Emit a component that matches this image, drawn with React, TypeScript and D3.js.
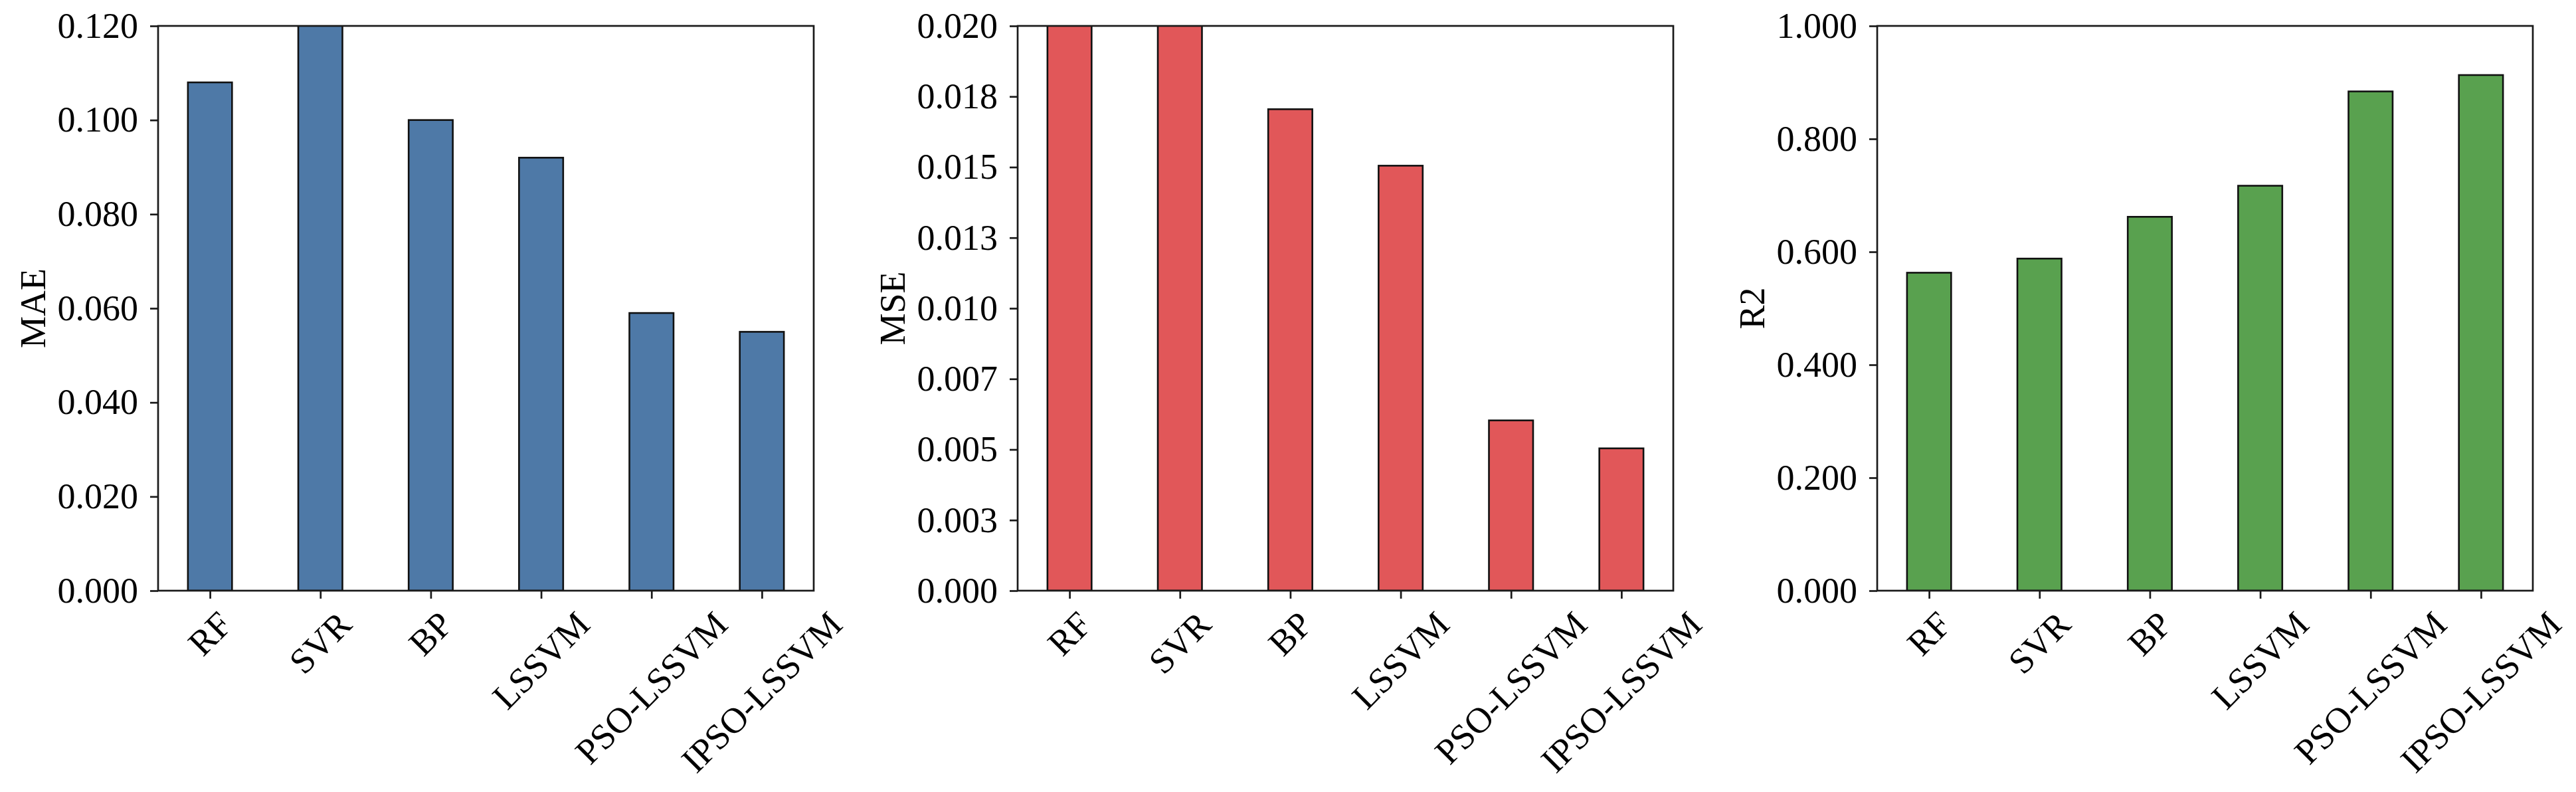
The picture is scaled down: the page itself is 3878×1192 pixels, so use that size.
import React, { useRef, useEffect } from "react";
import * as d3 from "d3";

const models = ["RF", "SVR", "BP", "LSSVM", "PSO-LSSVM", "IPSO-LSSVM"];

// MAE (SVR runs past the top of the axis)
const maeValues = [0.108, 0.122, 0.1, 0.092, 0.059, 0.055];
const maeTicks = [0, 0.02, 0.04, 0.06, 0.08, 0.1, 0.12];
const maeTickLabels = ["0.000", "0.020", "0.040", "0.060", "0.080", "0.100", "0.120"];

// MSE (RF and SVR clipped at 0.020)
const mseValues = [0.0215, 0.023, 0.01705, 0.01505, 0.00603, 0.00504];
const mseTicks = [0, 0.0025, 0.005, 0.0075, 0.01, 0.0125, 0.015, 0.0175, 0.02];
const mseTickLabels = ["0.000", "0.003", "0.005", "0.007", "0.010", "0.013", "0.015", "0.018", "0.020"];

// R2
const r2Values = [0.563, 0.588, 0.662, 0.717, 0.884, 0.913];
const r2Ticks = [0, 0.2, 0.4, 0.6, 0.8, 1.0];
const r2TickLabels = ["0.000", "0.200", "0.400", "0.600", "0.800", "1.000"];

const W = 3878;
const H = 1192;
const FONT = "'Liberation Serif', 'Times New Roman', serif";
const FS = 54;

const panels = [
  { name: "MAE", values: maeValues, ticks: maeTicks, labels: maeTickLabels, max: 0.12, color: "#4E79A7", left: 238 },
  { name: "MSE", values: mseValues, ticks: mseTicks, labels: mseTickLabels, max: 0.02, color: "#E15759", left: 1532 },
  { name: "R2", values: r2Values, ticks: r2Ticks, labels: r2TickLabels, max: 1.0, color: "#59A14F", left: 2826 },
];

const App = () => {
  const ref = useRef<SVGSVGElement>(null);

  useEffect(() => {
    document.body.style.margin = "0";
    const svg = d3.select(ref.current);
    svg.selectAll("*").remove();

    const top = 39;
    const bottom = 889;
    const pw = 987;
    const tickLen = 12;

    panels.forEach((p, pi) => {
      const x = d3.scaleLinear().domain([-0.47, 5.47]).range([p.left, p.left + pw]);
      const y = d3.scaleLinear().domain([0, p.max]).range([bottom, top]);
      const g = svg.append("g");

      const clipId = `clip-${pi}`;
      svg
        .append("defs")
        .append("clipPath")
        .attr("id", clipId)
        .append("rect")
        .attr("x", p.left)
        .attr("y", top)
        .attr("width", pw)
        .attr("height", bottom - top);

      g.append("g")
        .attr("clip-path", `url(#${clipId})`)
        .selectAll("rect")
        .data(p.values)
        .enter()
        .append("rect")
        .attr("x", (d, i) => x(i - 0.2))
        .attr("width", x(0.4) - x(0))
        .attr("y", (d) => y(d))
        .attr("height", (d) => bottom - y(d))
        .attr("fill", p.color)
        .attr("stroke", "#111")
        .attr("stroke-width", 2.6);

      // spines
      g.append("rect")
        .attr("x", p.left)
        .attr("y", top)
        .attr("width", pw)
        .attr("height", bottom - top)
        .attr("fill", "none")
        .attr("stroke", "#1a1a1a")
        .attr("stroke-width", 2.7);

      // y axis
      const yAxis = d3
        .axisLeft(y)
        .tickValues(p.ticks)
        .tickSize(tickLen)
        .tickPadding(18)
        .tickFormat((d, i) => p.labels[i]);
      const ya = g.append("g").attr("transform", `translate(${p.left},0)`).call(yAxis);
      ya.select(".domain").remove();
      ya.selectAll("line").attr("stroke", "#1a1a1a").attr("stroke-width", 2.7);
      ya.selectAll("text")
        .attr("font-family", FONT)
        .attr("font-size", FS)
        .attr("fill", "#000");

      // x axis
      const xAxis = d3
        .axisBottom(x)
        .tickValues(d3.range(models.length))
        .tickSize(tickLen)
        .tickFormat(() => "");
      const xa = g.append("g").attr("transform", `translate(0,${bottom})`).call(xAxis);
      xa.select(".domain").remove();
      xa.selectAll("line").attr("stroke", "#1a1a1a").attr("stroke-width", 2.7);

      const labelTop = bottom + tickLen + 14;
      models.forEach((m, i) => {
        const t = g
          .append("text")
          .attr("font-family", FONT)
          .attr("font-size", FS)
          .attr("text-anchor", "middle")
          .attr("dominant-baseline", "central")
          .text(m);
        const len = (t.node() as SVGTextElement).getComputedTextLength();
        const h = FS * 0.8;
        const half = (len + h) / (2 * Math.SQRT2);
        const cx = x(i);
        const cy = labelTop + half;
        t.attr("x", cx).attr("y", cy).attr("transform", `rotate(-45,${cx},${cy})`);
      });

      // y label
      const lx = p.left - 188;
      const ly = (top + bottom) / 2;
      g.append("text")
        .attr("font-family", FONT)
        .attr("font-size", FS)
        .attr("text-anchor", "middle")
        .attr("dominant-baseline", "central")
        .attr("transform", `translate(${lx},${ly}) rotate(-90)`)
        .text(p.name);
    });
  }, []);

  return <svg ref={ref} width={W} height={H} style={{ display: "block", background: "#fff" }}></svg>;
};

export default App;
